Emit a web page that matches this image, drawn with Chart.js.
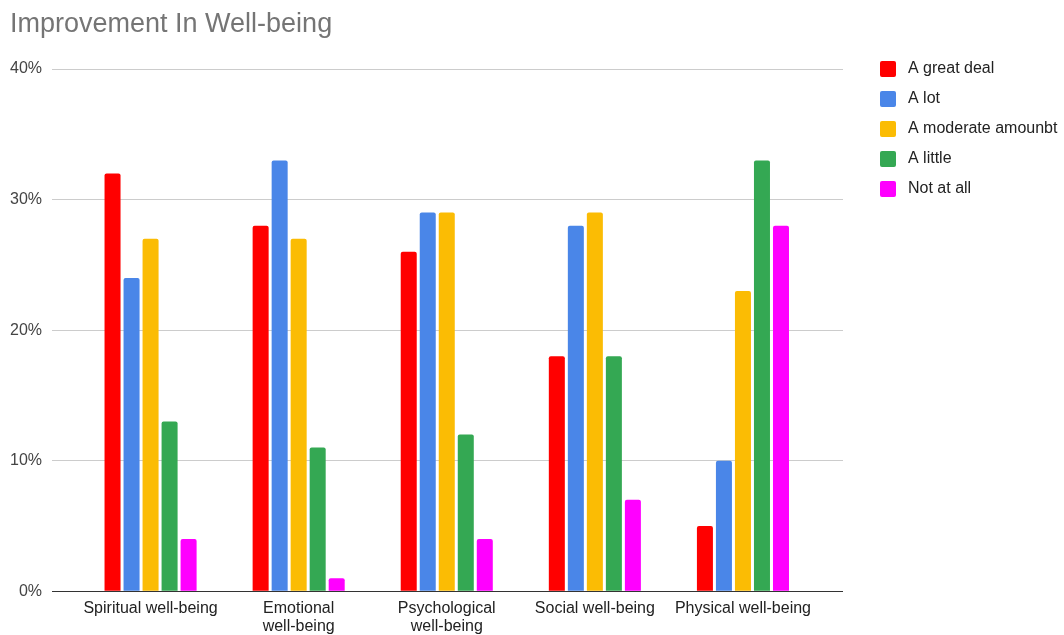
<!DOCTYPE html>
<html>
<head>
<meta charset="utf-8">
<script src="https://cdn.jsdelivr.net/npm/chart.js@4.4.0/dist/chart.umd.min.js"></script>
<style>
  html, body { margin: 0; padding: 0; background: #fff; }
  #wrap { width: 1064px; height: 635px; position: relative; }
</style>
</head>
<body>
<div id="wrap"><canvas id="c" width="1064" height="635"></canvas></div>
<script>
const chartTitle = 'Improvement In Well-being';
const categories = ['Spiritual well-being', ['Emotional', 'well-being'], ['Psychological', 'well-being'], 'Social well-being', 'Physical well-being'];
const seriesNames = ['A great deal', 'A lot', 'A moderate amounbt', 'A little', 'Not at all'];
const seriesColors = ['#ff0000', '#4a86e8', '#fbbc04', '#34a853', '#ff00ff'];
const greatDeal = [32, 28, 26, 18, 5];
const aLot = [24, 33, 29, 28, 10];
const moderate = [27, 27, 29, 29, 23];
const aLittle = [13, 11, 12, 18, 33];
const notAtAll = [4, 1, 4, 7, 28];
const yTicks = [0, 10, 20, 30, 40];

const seriesValues = [greatDeal, aLot, moderate, aLittle, notAtAll];

Chart.defaults.font.family = '"Liberation Sans", Arial, sans-serif';
Chart.defaults.font.size = 16;
Chart.defaults.color = '#444';

const gridColor = (ctx) => (ctx.tick && ctx.tick.value === 0) ? '#333333' : '#cccccc';

const decorPlugin = {
  id: 'decor',
  afterDraw(chart) {
    const ctx = chart.ctx;
    ctx.save();
    // title
    ctx.font = '27px "Liberation Sans", Arial, sans-serif';
    ctx.fillStyle = '#757575';
    ctx.textBaseline = 'alphabetic';
    ctx.textAlign = 'left';
    ctx.fillText(chartTitle, 10, 32);
    // legend
    const yScale = chart.scales.y;
    const top = yScale.getPixelForValue(yTicks[yTicks.length - 1]);
    ctx.font = '16px "Liberation Sans", Arial, sans-serif';
    ctx.textBaseline = 'middle';
    chart.data.datasets.forEach((ds, i) => {
      const cy = top + i * 30;
      ctx.fillStyle = ds.backgroundColor;
      ctx.beginPath();
      if (ctx.roundRect) ctx.roundRect(880, cy - 8, 16, 16, 2); else ctx.rect(880, cy - 8, 16, 16);
      ctx.fill();
      ctx.fillStyle = '#222222';
      ctx.fillText(ds.label, 908, cy);
    });
    ctx.restore();
  }
};

new Chart(document.getElementById('c'), {
  type: 'bar',
  data: {
    labels: categories,
    datasets: seriesNames.map((name, i) => ({
      label: name,
      data: seriesValues[i],
      backgroundColor: seriesColors[i],
      borderRadius: 2,
      borderSkipped: 'bottom',
      categoryPercentage: 0.642,
      barPercentage: 0.842,
      yAxisID: 'y'
    }))
  },
  options: {
    responsive: false,
    animation: false,
    layout: { padding: { left: 0, right: 221, top: 69, bottom: -1 } },
    plugins: {
      legend: { display: false },
      title: { display: false },
      tooltip: { enabled: false }
    },
    scales: {
      x: {
        grid: { display: false },
        border: { display: false },
        ticks: { color: '#222222', padding: 0, font: { size: 16, lineHeight: 1.15 }, maxRotation: 0, autoSkip: false }
      },
      y: {
        position: 'left',
        min: 0, max: 40,
        afterBuildTicks: (axis) => { axis.ticks = yTicks.map(v => ({ value: v })); },
        grid: { color: gridColor, tickLength: 24.5, drawTicks: true },
        border: { display: false },
        ticks: { color: '#444444', padding: 10, callback: (v) => v + '%' }
      },
      y2: {
        position: 'right',
        min: 0, max: 40,
        afterBuildTicks: (axis) => { axis.ticks = yTicks.map(v => ({ value: v })); },
        grid: { color: gridColor, tickLength: 26, drawTicks: true, drawOnChartArea: false },
        border: { display: false },
        ticks: { display: false }
      }
    }
  },
  plugins: [decorPlugin]
});
</script>
</body>
</html>
